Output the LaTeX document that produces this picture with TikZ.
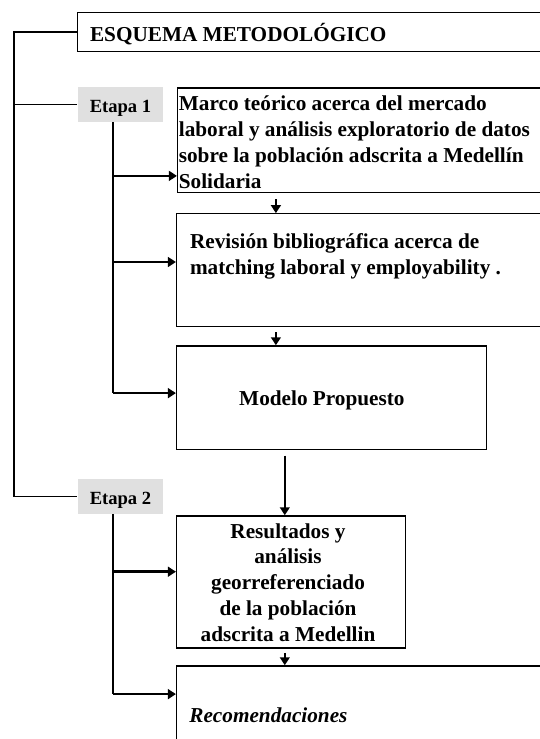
\documentclass[tikz,border=0pt]{standalone}
\usepackage{fontspec}
\setmainfont{Liberation Serif}
\usetikzlibrary{fit,arrows.meta}
\begin{document}
\begin{tikzpicture}[x=0.565pt,y=-0.565pt,
  box/.style={draw=black,line width=0.75pt,inner sep=0pt},
  etapa/.style={fill=black!12,draw=none,inner sep=0pt},
  etxt/.style={inner sep=0pt,font=\bfseries\fontsize{10.5}{12}\selectfont},
  txt/.style={inner sep=0pt,font=\bfseries\fontsize{12}{14.6}\selectfont},
  bracket/.style={line width=0.9pt},
  trunk/.style={line width=1.1pt},
  harrow/.style={line width=1.5pt,-{Triangle[length=4.5pt,width=5.5pt]}},
  varrow/.style={line width=1.1pt,-{Triangle[length=4.5pt,width=5.5pt]}}]
\useasboundingbox (0,0) rectangle (540,739);
\clip (0,0) rectangle (540,739);
% boxes
\node[box,fit={(77.6,12.4) (560,51.7)}] (title) {};
\node[etapa,fit={(77.6,86.9) (162.8,122.4)}] (e1) {};
\node[box,fit={(177.6,87.9) (560,192.4)}] (b1) {};
\node[box,fit={(176.6,213.8) (560,326.6)}] (b2) {};
\node[box,fit={(176.6,345.9) (486.2,449.7)}] (b3) {};
\node[etapa,fit={(77.6,478.6) (162.8,514.1)}] (e2) {};
\node[box,fit={(176.6,515.9) (405.5,647.9)}] (b4) {};
\node[box,fit={(176.6,665.9) (560,770)}] (b5) {};
% texts (base anchor = baseline of the last line)
\node[etxt,anchor=base] (te1) at (120.5,112.5) {Etapa 1};
\node[etxt,anchor=base] (te2) at (120.5,504) {Etapa 2};
\node[txt,anchor=base west] (ttitle) at (89.7,41.4) {ESQUEMA METODOLÓGICO};
\node[txt,anchor=base west,align=left] (tb1) at (178.5,188.5) {Marco teórico acerca del mercado\\laboral y análisis exploratorio de datos\\sobre la población adscrita a Medellín\\Solidaria};
\node[txt,anchor=base west,align=left] (tb2) at (189.7,274) {Revisión bibliográfica acerca de\\matching laboral y employability .};
\node[txt,anchor=base] (tb3) at (321.9,405) {Modelo Propuesto};
\node[txt,anchor=base,align=center] (tb4) at (288,641.5) {Resultados y\\análisis\\georreferenciado\\de la población\\adscrita a Medellin};
\node[txt,anchor=base west,font=\bfseries\itshape\fontsize{12}{14.6}\selectfont] (tb5) at (189,722.8) {Recomendaciones};
% left bracket
\coordinate (Lx) at (13.8,0);
\draw[bracket] (title.west) -- (title.west -| Lx) -- (e2.west -| Lx) -- (e2.west);
\draw[bracket] (e1.west) -- (e1.west -| Lx);
% trunk 1
\coordinate (t1s) at (112.8,122.4);
\coordinate (a11) at (112.8,175.9);
\coordinate (a12) at (112.8,262);
\coordinate (a13) at (112.8,393.1);
\draw[trunk] (t1s) -- (a13);
\draw[harrow] (a11) -- (a11 -| b1.west);
\draw[harrow] (a12) -- (a12 -| b2.west);
\draw[harrow] (a13) -- (a13 -| b3.west);
% trunk 2
\coordinate (t2s) at (112.8,514.1);
\coordinate (a21) at (112.8,571.7);
\coordinate (a22) at (112.8,694.1);
\draw[trunk] (t2s) -- (a22);
\draw[harrow] (a21) -- (a21 -| b4.west);
\draw[harrow] (a22) -- (a22 -| b5.west);
% vertical arrows
\coordinate (v1) at (275.9,199);
\coordinate (v2) at (275.9,332);
\coordinate (v3) at (284.8,455.5);
\coordinate (v4) at (284.8,652.8);
\draw[varrow] (v1) -- (v1 |- b2.north);
\draw[varrow] (v2) -- (v2 |- b3.north);
\draw[varrow] (v3) -- (v3 |- b4.north);
\draw[varrow] (v4) -- (v4 |- b5.north);
\end{tikzpicture}
\end{document}
